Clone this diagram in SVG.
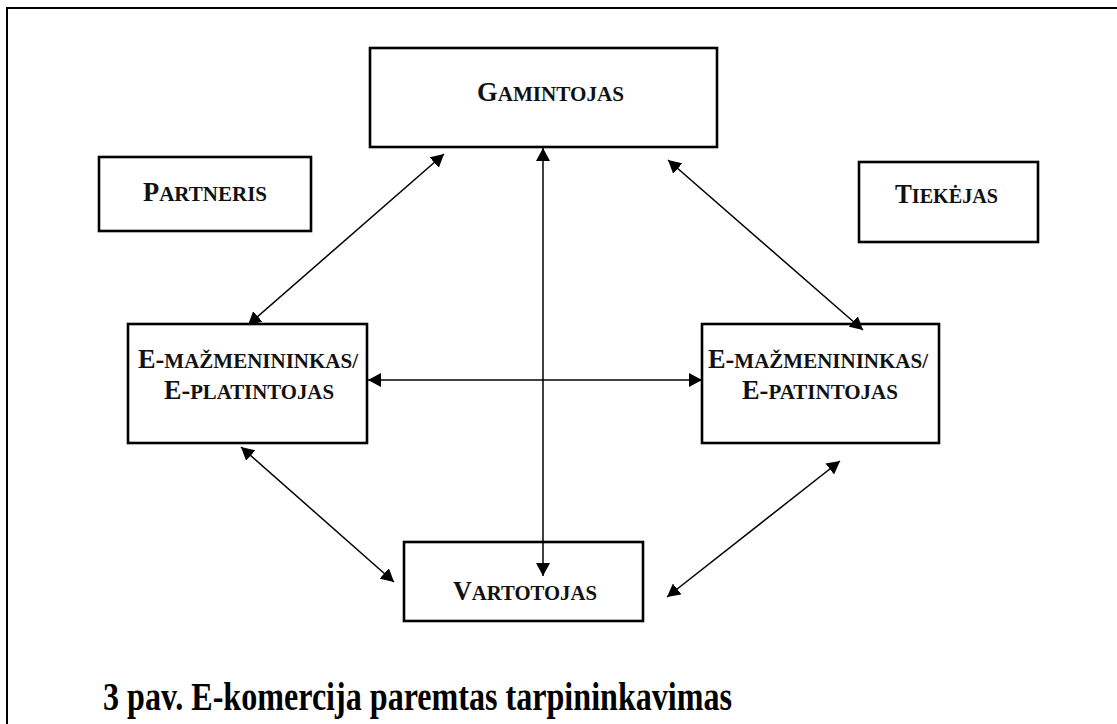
<svg xmlns="http://www.w3.org/2000/svg" width="1117" height="724" viewBox="0 0 1117 724">
<style>
.box{fill:#fff;stroke:#000;stroke-width:2.6}
.lbl{font-family:"Liberation Serif","Times New Roman",serif;font-weight:bold;font-size:27px;fill:#111}
.sc{font-size:21.5px}
.con{stroke:#000;stroke-width:1.5;fill:none;marker-start:url(#ah);marker-end:url(#ah)}
.cap{font-family:"Liberation Serif","Times New Roman",serif;font-weight:bold;font-size:40px;fill:#000}
</style>
<defs>
<marker id="ah" viewBox="0 0 13 14" refX="13" refY="7" markerWidth="13" markerHeight="14" markerUnits="userSpaceOnUse" orient="auto-start-reverse">
<path d="M0,0 L13,7 L0,14 z" fill="#000"/>
</marker>
</defs>
<rect width="1117" height="724" fill="#fff"/>
<rect x="7" y="8" width="1130" height="740" fill="none" stroke="#000" stroke-width="2"/>
<g id="gamintojas">
<rect class="box" x="370" y="48" width="347" height="99"/>
<text class="lbl" x="477" y="101" textLength="147" lengthAdjust="spacingAndGlyphs">G<tspan class="sc">AMINTOJAS</tspan></text>
</g>
<g id="partneris">
<rect class="box" x="99" y="157" width="212" height="74"/>
<text class="lbl" x="143" y="201" textLength="124" lengthAdjust="spacingAndGlyphs">P<tspan class="sc">ARTNERIS</tspan></text>
</g>
<g id="tiekejas">
<rect class="box" x="859" y="162" width="179" height="80"/>
<text class="lbl" x="895" y="203" textLength="103" lengthAdjust="spacingAndGlyphs">T<tspan class="sc">IEKĖJAS</tspan></text>
</g>
<g id="e-mazmenininkas-platintojas">
<rect class="box" x="128" y="324" width="239" height="119"/>
<text class="lbl" x="138" y="368" textLength="220" lengthAdjust="spacingAndGlyphs">E-<tspan class="sc">MAŽMENININKAS/</tspan></text>
<text class="lbl" x="164" y="399" textLength="170" lengthAdjust="spacingAndGlyphs">E-<tspan class="sc">PLATINTOJAS</tspan></text>
</g>
<g id="e-mazmenininkas-patintojas">
<rect class="box" x="702" y="324" width="237" height="119"/>
<text class="lbl" x="708" y="368" textLength="220" lengthAdjust="spacingAndGlyphs">E-<tspan class="sc">MAŽMENININKAS/</tspan></text>
<text class="lbl" x="742" y="399" textLength="156" lengthAdjust="spacingAndGlyphs">E-<tspan class="sc">PATINTOJAS</tspan></text>
</g>
<g id="vartotojas">
<rect class="box" x="404" y="542" width="239" height="79"/>
<text class="lbl" x="453" y="600" textLength="144" lengthAdjust="spacingAndGlyphs">V<tspan class="sc">ARTOTOJAS</tspan></text>
</g>
<g id="connectors">
<line class="con" x1="248" y1="325" x2="444" y2="154"/>
<line class="con" x1="543" y1="576" x2="543" y2="148"/>
<line class="con" x1="668" y1="160" x2="863" y2="330"/>
<line class="con" x1="368" y1="380" x2="702" y2="380"/>
<line class="con" x1="241" y1="447" x2="394" y2="582"/>
<line class="con" x1="840" y1="461" x2="667" y2="597"/>
</g>
<text class="cap" x="103" y="710" textLength="629" lengthAdjust="spacingAndGlyphs">3 pav. E-komercija paremtas tarpininkavimas</text>
</svg>
